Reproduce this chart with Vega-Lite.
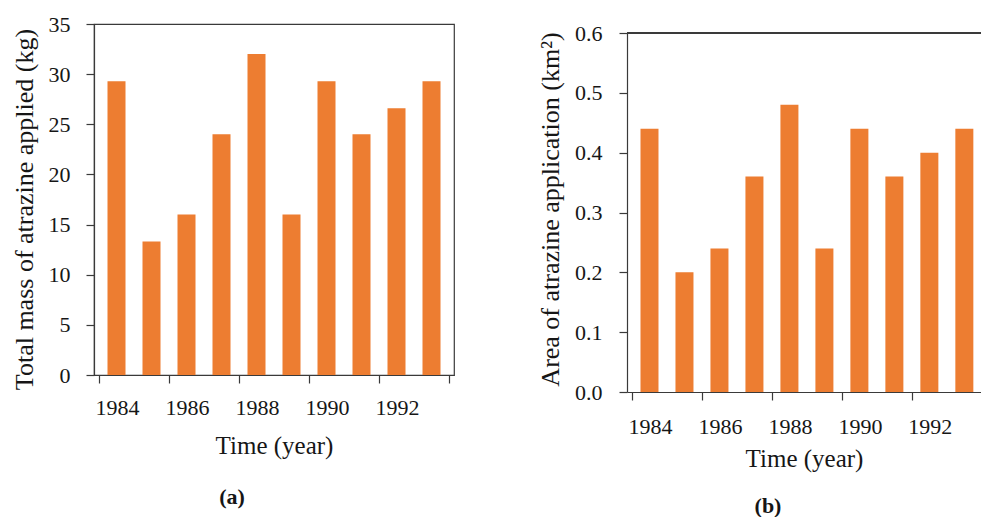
{
  "$schema": "https://vega.github.io/schema/vega-lite/v6.json",
  "background": "white",
  "padding": {"left": 10, "top": 12, "right": 0, "bottom": 0},
  "config": {
    "font": "Liberation Serif",
    "view": {"stroke": "#3a3a3a", "strokeWidth": 1.2},
    "axis": {
      "grid": false,
      "domainColor": "#3a3a3a",
      "domainWidth": 1.2,
      "tickColor": "#3a3a3a",
      "tickWidth": 1.2,
      "labelColor": "#161616",
      "titleColor": "#161616",
      "labelFont": "Liberation Serif",
      "titleFont": "Liberation Serif",
      "labelFontSize": 22,
      "titleFontSize": 25,
      "titleFontWeight": "normal"
    },
    "title": {"font": "Liberation Serif", "fontSize": 22, "fontWeight": "bold", "color": "#161616"}
  },
  "datasets": {
    "atrazine": [
      {"year": 1984, "mass": 29.3, "area": 0.44},
      {"year": 1985, "mass": 13.3, "area": 0.20},
      {"year": 1986, "mass": 16.0, "area": 0.24},
      {"year": 1987, "mass": 24.0, "area": 0.36},
      {"year": 1988, "mass": 32.0, "area": 0.48},
      {"year": 1989, "mass": 16.0, "area": 0.24},
      {"year": 1990, "mass": 29.3, "area": 0.44},
      {"year": 1991, "mass": 24.0, "area": 0.36},
      {"year": 1992, "mass": 26.6, "area": 0.40},
      {"year": 1993, "mass": 29.3, "area": 0.44}
    ]
  },
  "spacing": 69,
  "hconcat": [
    {
      "width": 360,
      "height": 351,
      "data": {"name": "atrazine"},
      "title": {"text": "(a)", "orient": "bottom", "anchor": "middle", "dx": -42, "offset": 29},
      "mark": {"type": "bar", "color": "#ED7D31", "width": 18, "orient": "vertical"},
      "encoding": {
        "x": {
          "field": "year", "type": "quantitative",
          "scale": {"domain": [1983.5, 1993.5], "nice": false, "zero": false},
          "axis": {
            "values": [1983.5, 1985.5, 1987.5, 1989.5, 1991.5, 1993.5],
            "labelExpr": "datum.value < 1993 ? format(datum.value + 0.5, 'd') : ''",
            "labelOffset": 18, "labelFlush": false, "labelOverlap": false,
            "tickSize": 8, "labelPadding": 14,
            "title": "Time (year)", "titlePadding": 15
          }
        },
        "y": {
          "field": "mass", "type": "quantitative",
          "scale": {"domain": [0, 35], "nice": false},
          "axis": {
            "values": [0, 5, 10, 15, 20, 25, 30, 35],
            "tickSize": 8, "labelPadding": 16,
            "title": "Total mass of atrazine applied (kg)", "titlePadding": 11,
            "titleFontSize": 26, "titleY": 185
          }
        }
      }
    },
    {
      "spacing": 8,
      "bounds": "flush",
      "vconcat": [
        {
          "width": 10, "height": 1,
          "data": {"values": []},
          "view": {"stroke": null},
          "mark": "point",
          "encoding": {}
        },
        {
          "width": 354,
          "height": 359,
          "data": {"name": "atrazine"},
          "view": {"stroke": null},
          "title": {"text": "(b)", "orient": "bottom", "anchor": "middle", "dx": -36, "offset": 25},
          "layer": [
            {
              "mark": {"type": "bar", "color": "#ED7D31", "width": 18, "orient": "vertical"},
              "encoding": {
                "x": {
                  "field": "year", "type": "quantitative",
                  "scale": {"domain": [1983.5, 1993.3333], "nice": false, "zero": false},
                  "axis": {
                    "values": [1983.5, 1985.5, 1987.5, 1989.5, 1991.5],
                    "labelExpr": "format(datum.value + 0.5, 'd')",
                    "labelOffset": 18, "labelFlush": false, "labelOverlap": false,
                    "tickSize": 8, "labelPadding": 16,
                    "title": "Time (year)", "titlePadding": 9
                  }
                },
                "y": {
                  "field": "area", "type": "quantitative",
                  "scale": {"domain": [0, 0.6], "nice": false},
                  "axis": {
                    "values": [0, 0.1, 0.2, 0.3, 0.4, 0.5, 0.6],
                    "format": ".1f",
                    "tickSize": 8, "labelPadding": 17,
                    "title": "Area of atrazine application (km²)", "titlePadding": 11,
                    "titleFontSize": 26, "titleY": 176
                  }
                }
              }
            },
            {
              "mark": {"type": "rule", "color": "#3a3a3a", "strokeWidth": 1.2},
              "encoding": {"y": {"datum": 0.6}}
            }
          ]
        }
      ]
    }
  ]
}
